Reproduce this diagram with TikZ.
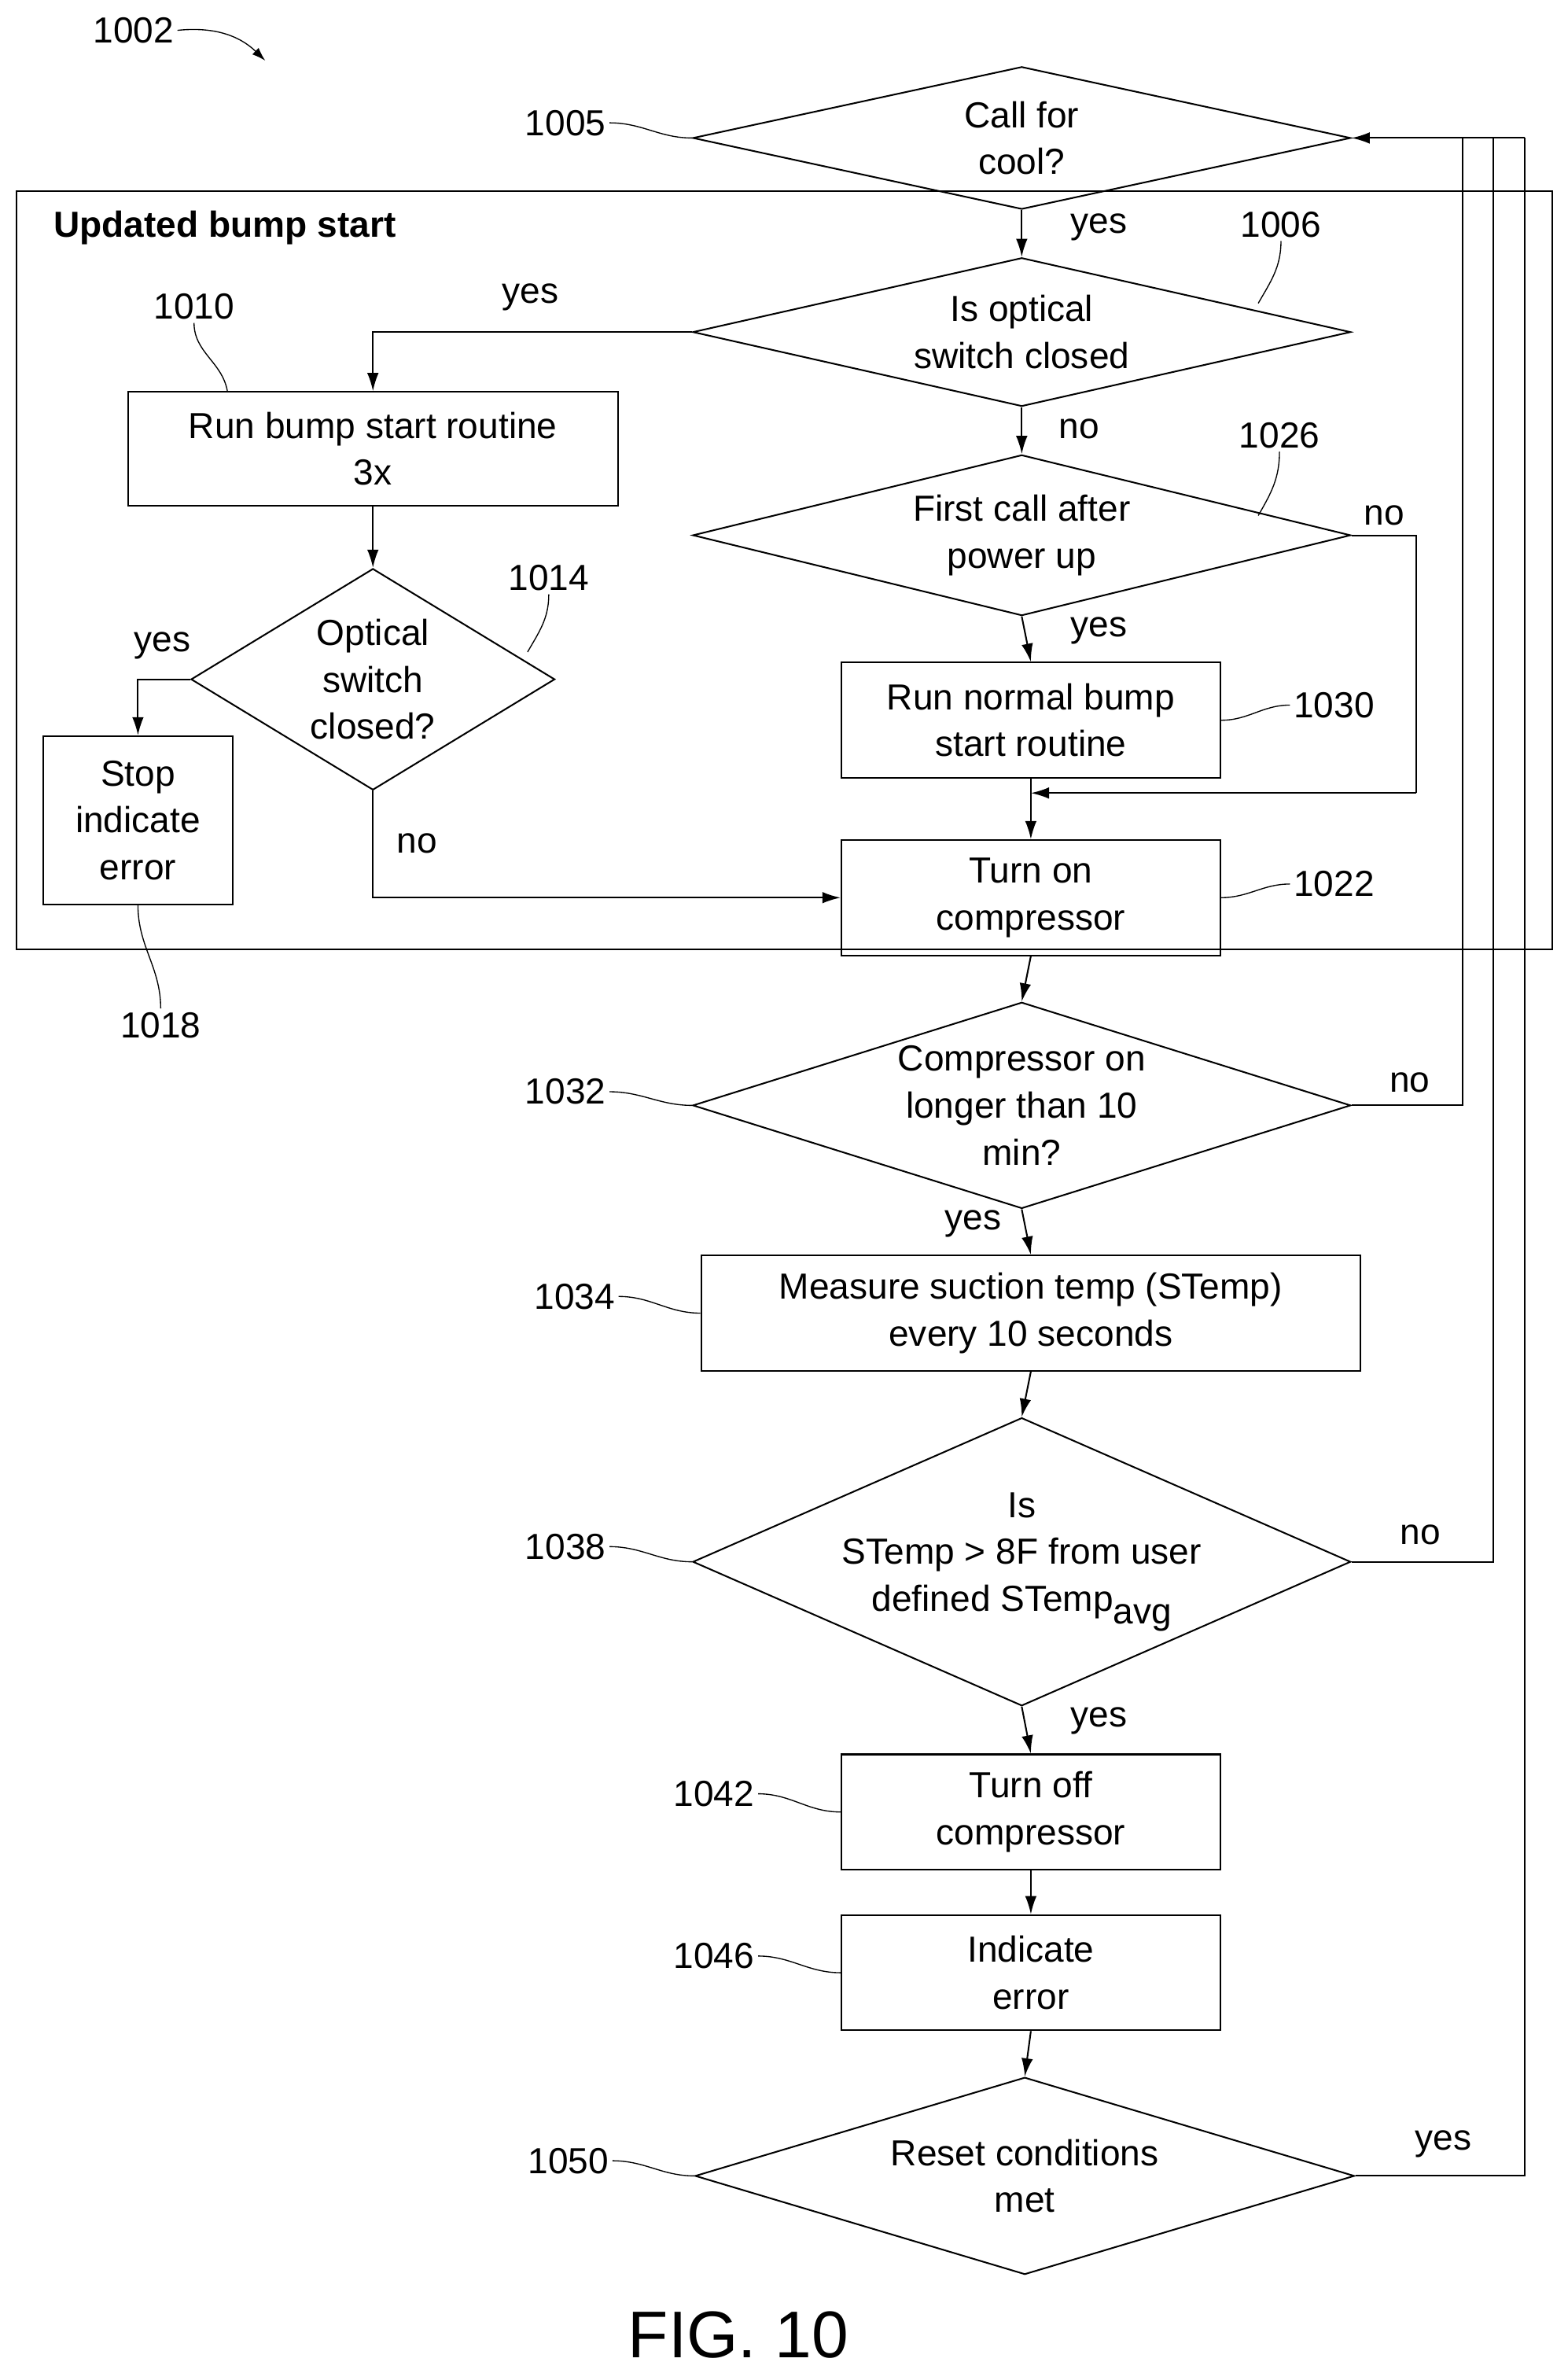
\documentclass[tikz,border=0pt]{standalone}
\usepackage{fontspec}
\setmainfont{Liberation Sans}
\usetikzlibrary{arrows.meta,shapes.geometric}
\begin{document}
\begin{tikzpicture}[x=0.05cm,y=-0.05cm,font=\fontsize{34}{44}\selectfont]
    \tikzset{box/.style = {shape=rectangle,draw,line width=1.5pt,align=center,inner sep=0pt}}
    \tikzset{dia/.style = {shape=diamond,draw,line width=1.5pt,inner sep=0pt}}
    \tikzset{dtext/.style = {label={[align=center]center:#1}}}
    \tikzset{arr/.style = {line width=1.5pt,-{Latex[length=0.6cm,width=0.38cm]}}}
    \tikzset{ln/.style = {line width=1.5pt}}
    \tikzset{lead/.style = {line width=1pt}}
    \useasboundingbox (0,0) rectangle (1034,1565);
    % group box
    \node[box,minimum width=50.65cm,minimum height=25cm] (grp) at (517.5,376) {};
    \node[anchor=west,font=\fontsize{34}{44}\selectfont\bfseries] (title) at (33,150) {Updated bump start};
    % decisions
    \node[dia,minimum width=21.7cm,minimum height=4.7cm,dtext={Call for\\cool?}] (cool) at (674,91) {};
    \node[dia,minimum width=21.7cm,minimum height=4.9cm,dtext={Is optical\\switch closed}] (optsw) at (674,219) {};
    \node[dia,minimum width=21.7cm,minimum height=5.3cm,dtext={First call after\\power up}] (first) at (674,353) {};
    \node[dia,minimum width=12cm,minimum height=7.3cm,dtext={Optical\\switch\\closed?}] (optsw2) at (246,448) {};
    \node[dia,minimum width=21.7cm,minimum height=6.8cm,dtext={Compressor on\\longer than 10\\min?}] (longer) at (674,729) {};
    \node[dia,minimum width=21.7cm,minimum height=9.5cm,dtext={Is\\STemp > 8F from user\\defined STemp\raisebox{-0.35em}{avg}}] (stemp) at (674,1030) {};
    \node[dia,minimum width=21.75cm,minimum height=6.5cm,dtext={Reset conditions\\met}] (reset) at (676,1435) {};
    % boxes
    \node[box,minimum width=16.15cm,minimum height=3.75cm] (bump) at (246,296) {Run bump start routine\\3x};
    \node[box,minimum width=12.5cm,minimum height=3.8cm] (normal) at (680,475) {Run normal bump\\start routine};
    \node[box,minimum width=6.25cm,minimum height=5.55cm] (stop) at (91,541) {Stop\\indicate\\error};
    \node[box,minimum width=12.5cm,minimum height=3.8cm] (comp) at (680,592) {Turn on\\compressor};
    \node[box,minimum width=21.75cm,minimum height=3.8cm] (measure) at (680,866) {Measure suction temp (STemp)\\every 10 seconds};
    \node[box,minimum width=12.5cm,minimum height=3.8cm] (off) at (680,1195) {Turn off\\compressor};
    \node[box,minimum width=12.5cm,minimum height=3.8cm] (ind) at (680,1301) {Indicate\\error};
    % junctions
    \coordinate (j1) at (680,523);
    \coordinate (r1) at (934,523);
    \coordinate (c1) at (965,91);
    \coordinate (c2) at (985,91);
    \coordinate (c3) at (1006,91);
    %edges
    \draw[arr] (cool.south) -- (optsw.north);
    \draw[arr] (optsw.west) -| (bump.north);
    \draw[arr] (optsw.south) -- (first.north);
    \draw[arr] (first.south) -- (normal.north);
    \draw[ln] (first.east) -| (r1);
    \draw[arr] (r1) -- (j1);
    \draw[arr] (normal.south) -- (comp.north);
    \draw[arr] (bump.south) -- (optsw2.north);
    \draw[arr] (optsw2.west) -| (stop.north);
    \draw[arr] (optsw2.south) |- (comp.west);
    \draw[arr] (comp.south) -- (longer.north);
    \draw[arr] (longer.south) -- (measure.north);
    \draw[arr] (measure.south) -- (stemp.north);
    \draw[arr] (stemp.south) -- (off.north);
    \draw[arr] (off.south) -- (ind.north);
    \draw[arr] (ind.south) -- (reset.north);
    \draw[ln] (longer.east) -| (c1);
    \draw[ln] (stemp.east) -| (c2);
    \draw[ln] (reset.east) -| (c3);
    \draw[arr] (c3) -- (cool.east);
    % edge labels
    \node (y1) at (725,150) {yes};
    \node (y2) at (350,196) {yes};
    \node (n1) at (712,283) {no};
    \node (n2) at (913,340) {no};
    \node (y3) at (725,416) {yes};
    \node (y4) at (107,426) {yes};
    \node (n3) at (275,556) {no};
    \node (n4) at (930,714) {no};
    \node (y5) at (642,807) {yes};
    \node (n5) at (937,1012) {no};
    \node (y6) at (725,1135) {yes};
    \node (y7) at (952,1414) {yes};
    % reference numerals
    \node (l1002) at (88,20) {1002};
    \coordinate (a1002) at (175,40);
    \draw[lead,-{Latex[length=0.45cm,width=0.3cm]}] (l1002.east) to[bend left=25] (a1002);
    \node (l1005) at (373,81) {1005};
    \draw[lead] (l1005.east) to[out=0,in=180] (cool.west);
    \node (l1006) at (845,148) {1006};
    \draw[lead] (l1006.south) to[out=-90,in=60] (830,200);
    \node (l1010) at (128,202) {1010};
    \draw[lead] (l1010.south) to[out=-90,in=100] (150,258);
    \node (l1026) at (844,287) {1026};
    \draw[lead] (l1026.south) to[out=-90,in=60] (830,340);
    \node (l1014) at (362,381) {1014};
    \draw[lead] (l1014.south) to[out=-90,in=60] (348,430);
    \node (l1030) at (880,465) {1030};
    \draw[lead] (l1030.west) to[out=180,in=0] (normal.east);
    \node (l1022) at (880,583) {1022};
    \draw[lead] (l1022.west) to[out=180,in=0] (comp.east);
    \node (l1018) at (106,676) {1018};
    \draw[lead] (l1018.north) to[out=90,in=-90] (stop.south);
    \node (l1032) at (373,720) {1032};
    \draw[lead] (l1032.east) to[out=0,in=180] (longer.west);
    \node (l1034) at (379,855) {1034};
    \draw[lead] (l1034.east) to[out=0,in=180] (measure.west);
    \node (l1038) at (373,1020) {1038};
    \draw[lead] (l1038.east) to[out=0,in=180] (stemp.west);
    \node (l1042) at (471,1183) {1042};
    \draw[lead] (l1042.east) to[out=0,in=180] (off.west);
    \node (l1046) at (471,1290) {1046};
    \draw[lead] (l1046.east) to[out=0,in=180] (ind.west);
    \node (l1050) at (375,1425) {1050};
    \draw[lead] (l1050.east) to[out=0,in=180] (reset.west);
    \node[font=\fontsize{62}{70}\selectfont] (fig) at (487,1540) {FIG. 10};
\end{tikzpicture}
\end{document}
